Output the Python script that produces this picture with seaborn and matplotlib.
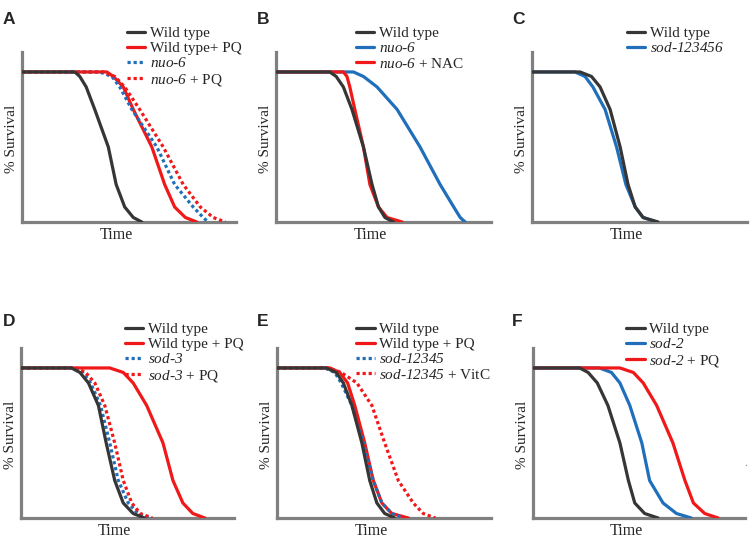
import pandas as pd
import seaborn as sns
import matplotlib.pyplot as plt

# ==========================================
# 1. 数据
# ==========================================
# 每条曲线在这些存活水平处对应的时间
survival_levels = [100, 100, 97, 90, 75, 50, 25, 10, 3, 0]

# A
a_wt = [0, 7.4, 8.1, 9.0, 10.2, 12.1, 13.2, 14.4, 15.6, 16.8]
a_wt_pq = [0, 11.9, 12.8, 14.2, 15.6, 18.2, 20.0, 21.4, 22.9, 24.5]
a_nuo6 = [0, 10.9, 12.6, 13.7, 15.4, 18.9, 21.4, 24.0, 25.4, 26.1]
a_nuo6_pq = [0, 11.4, 13.0, 14.4, 16.5, 19.8, 22.6, 25.0, 26.8, 28.5]
# B
b_wt = [0, 7.5, 8.4, 9.4, 10.6, 12.2, 13.4, 14.3, 15.2, 16.4]
b_nuo6 = [0, 10.8, 12.2, 14.1, 16.9, 20.1, 22.9, 24.8, 25.7, 26.4]
b_nuo6_nac = [0, 9.4, 9.9, 10.3, 11.0, 12.2, 13.1, 14.3, 15.5, 17.6]
# C
c_wt = [0, 6.7, 8.3, 9.5, 10.9, 12.3, 13.4, 14.4, 15.5, 17.6]
c_sod123456 = [0, 6.0, 7.4, 8.5, 10.2, 11.8, 13.1, 14.4, 15.5, 17.4]
# D
d_wt = [0, 7.1, 8.3, 9.5, 10.9, 12.0, 13.2, 14.4, 15.8, 17.4]
d_wt_pq = [0, 12.5, 14.4, 15.8, 17.7, 20.0, 21.4, 22.8, 24.2, 25.9]
d_sod3 = [0, 7.4, 8.7, 9.8, 11.2, 12.5, 13.7, 15.1, 16.5, 18.1]
d_sod3_pq = [0, 7.8, 9.1, 10.4, 11.8, 13.2, 14.4, 15.6, 16.8, 18.5]
# E
e_wt = [0, 6.9, 8.3, 9.3, 10.5, 11.9, 13.0, 14.0, 15.1, 16.5]
e_wt_pq = [0, 7.4, 8.8, 9.9, 10.9, 12.3, 13.5, 14.7, 16.1, 18.4]
e_sod12345 = [0, 6.7, 8.1, 9.0, 10.5, 12.1, 13.5, 14.7, 16.1, 17.7]
e_sod12345_vitc = [0, 7.2, 9.0, 11.2, 13.3, 15.1, 17.0, 19.1, 20.5, 22.2]
# F
f_wt = [0, 6.6, 7.8, 9.1, 10.6, 12.3, 13.5, 14.4, 15.8, 17.7]
f_sod2 = [0, 9.4, 11.1, 12.3, 13.7, 15.4, 16.5, 18.4, 20.3, 22.4]
f_sod2_pq = [0, 12.3, 14.2, 15.6, 17.5, 19.8, 21.5, 22.7, 24.3, 26.2]

# ==========================================
# 2. 风格
# ==========================================
sns.set_theme(style="white")
plt.rcParams['font.family'] = ['Liberation Serif', 'DejaVu Serif']
# mathtext 只用来写斜体基因名 (数字也要斜体, 所以 rm 也设成斜体)
plt.rcParams['mathtext.fontset'] = 'custom'
plt.rcParams['mathtext.it'] = 'Liberation Serif:italic'
plt.rcParams['mathtext.rm'] = 'Liberation Serif:italic'

BLACK = "#363636"
RED = "#f01818"
BLUE = "#1f6fbb"
GRAY = "#808080"
LW = 2.3
DOT = (0, (1, 0.9))

def it(name):
    a, b = name.split('-')
    return r"$\mathit{" + a + r"}$-$\mathrm{" + b + r"}$"

panels = [
    ('A', [(a_wt, 'Wild type', BLACK, '-'),
           (a_wt_pq, 'Wild type+ PQ', RED, '-'),
           (a_nuo6, it('nuo-6'), BLUE, DOT),
           (a_nuo6_pq, it('nuo-6') + ' + PQ', RED, DOT)]),
    ('B', [(b_wt, 'Wild type', BLACK, '-'),
           (b_nuo6, it('nuo-6'), BLUE, '-'),
           (b_nuo6_nac, it('nuo-6') + ' + NAC', RED, '-')]),
    ('C', [(c_wt, 'Wild type', BLACK, '-'),
           (c_sod123456, it('sod-123456'), BLUE, '-')]),
    ('D', [(d_wt, 'Wild type', BLACK, '-'),
           (d_wt_pq, 'Wild type + PQ', RED, '-'),
           (d_sod3, it('sod-3'), BLUE, DOT),
           (d_sod3_pq, it('sod-3') + ' + PQ', RED, DOT)]),
    ('E', [(e_wt, 'Wild type', BLACK, '-'),
           (e_wt_pq, 'Wild type + PQ', RED, '-'),
           (e_sod12345, it('sod-12345'), BLUE, DOT),
           (e_sod12345_vitc, it('sod-12345') + ' + VitC', RED, DOT)]),
    ('F', [(f_wt, 'Wild type', BLACK, '-'),
           (f_sod2, it('sod-2'), BLUE, '-'),
           (f_sod2_pq, it('sod-2') + ' + PQ', RED, '-')]),
]

# 版面 (像素)
W, H = 750, 538
ax_left = [22, 276, 532, 21, 277, 533]
ax_bottom = [222, 222, 222, 518, 518, 518]
ax_w = [214, 215, 215, 213, 214, 212]
ax_h = 170
leg_x = [0.49, 0.372, 0.44, 0.488, 0.37, 0.44]
letter_xy = [(3, 19), (257, 19), (512, 19), (3, 321), (257, 321), (512, 321)]

fig = plt.figure(figsize=(7.5, 5.38), dpi=100)

for i, (letter, curves) in enumerate(panels):
    ax = fig.add_axes([ax_left[i] / W, 1 - ax_bottom[i] / H, ax_w[i] / W, ax_h / H])
    for j, (times, label, color, ls) in enumerate(curves):
        df = pd.DataFrame({'time': times, 'surv': survival_levels})
        sns.lineplot(data=df, x='time', y='surv', ax=ax, color=color, linestyle=ls,
                     lw=LW, label=label, sort=False, estimator=None,
                     zorder=4 if color == BLACK else 3)
    ax.set_xlim(0, 30)
    ax.set_ylim(0, 113.3)
    ax.set_xticks([])
    ax.set_yticks([])
    for s in ['top', 'right']:
        ax.spines[s].set_visible(False)
    for s in ['left', 'bottom']:
        ax.spines[s].set_color(GRAY)
        ax.spines[s].set_linewidth(2.3)
    ax.set_xlabel('Time', fontsize=11.5)
    ax.set_ylabel('% Survival', fontsize=11)
    ax.xaxis.set_label_coords(0.44, -0.03)
    ax.yaxis.set_label_coords(-0.02, 0.49)
    ax.legend(loc='upper left', bbox_to_anchor=(leg_x[i], 1.15), frameon=False,
              fontsize=11, handlelength=1.2, handletextpad=0.3, labelspacing=0.08,
              borderpad=0, borderaxespad=0)
    fig.text(letter_xy[i][0] / W, 1 - letter_xy[i][1] / H, letter, ha='left', va='center',
             fontsize=12.5, fontweight='bold', family='Liberation Sans')

# 右下角的小灰点
fig.text(744 / W, 1 - 463 / H, '.', color=GRAY, fontsize=8, ha='left', va='center')

plt.savefig('out.png', dpi=100)
